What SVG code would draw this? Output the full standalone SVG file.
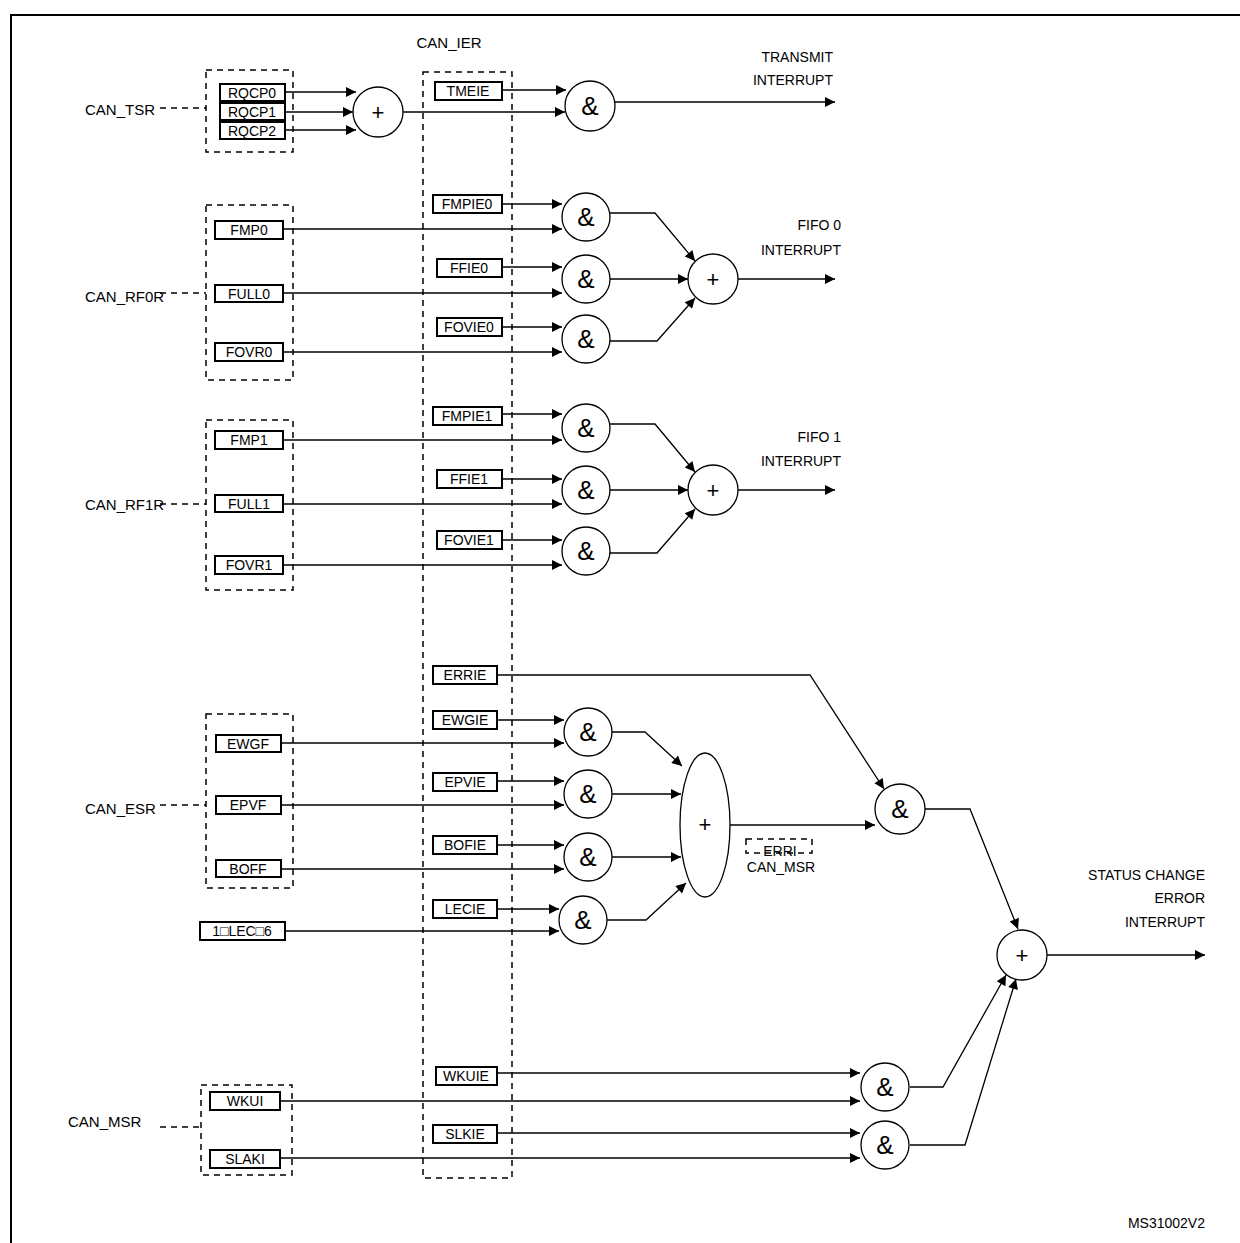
<svg xmlns="http://www.w3.org/2000/svg" width="1240" height="1243" viewBox="0 0 1240 1243">
<defs>
<marker id="a" viewBox="0 0 10 10" refX="10" refY="5" markerWidth="14" markerHeight="10" markerUnits="userSpaceOnUse" orient="auto"><path d="M0,0L10,5L0,10z" fill="#000"/></marker>
</defs>
<style>
text{font-family:"Liberation Sans",Arial,sans-serif;fill:#000}
.l{font-size:15px}
.b{font-size:14px;text-anchor:middle}
.r{font-size:14px;text-anchor:end}
.g{font-size:26px;text-anchor:middle}
.p{font-size:22px;text-anchor:middle}
.bx{fill:#fff;stroke:#000;stroke-width:2}
.d{fill:none;stroke:#000;stroke-width:1.5;stroke-dasharray:6,5}
.c{fill:#fff;stroke:#000;stroke-width:1.3}
.w{fill:none;stroke:#000;stroke-width:1.3}
.w2{fill:none;stroke:#000;stroke-width:1.3;marker-end:url(#a)}
</style>
<rect x="0" y="0" width="1240" height="1243" fill="#fff"/>
<path d="M11,1243V15H1240" fill="none" stroke="#000" stroke-width="2"/>
<g id="regs">
<text x="449" y="48" class="l" text-anchor="middle">CAN_IER</text>
<rect class="d" x="423" y="72" width="89" height="1106"/>
<rect class="d" x="206" y="70" width="87" height="82"/>
<rect class="d" x="206" y="205" width="87" height="175"/>
<rect class="d" x="206" y="420" width="87" height="170"/>
<rect class="d" x="206" y="714" width="87" height="174"/>
<rect class="d" x="201" y="1085" width="91" height="90"/>
<text x="85" y="115" class="l">CAN_TSR</text>
<text x="85" y="302" class="l">CAN_RF0R</text>
<text x="85" y="510" class="l">CAN_RF1R</text>
<text x="85" y="814" class="l">CAN_ESR</text>
<text x="68" y="1127" class="l">CAN_MSR</text>
<path class="d" d="M160,108H206M160,293H206M160,504H206M160,805H206M160,1127H201"/>
</g>
<g id="connectors">
<path class="w2" d="M285,92H356"/><path class="w2" d="M285,112H353"/><path class="w2" d="M285,130H356"/>
<path class="w2" d="M502,90H566"/><path class="w2" d="M403,112H565"/><path class="w2" d="M615,102H835"/>
<path class="w2" d="M502,204H562"/><path class="w2" d="M283,229H562"/><path class="w2" d="M502,267H562"/><path class="w2" d="M283,293H562"/><path class="w2" d="M502,327H562"/><path class="w2" d="M283,352H562"/>
<path class="w2" d="M610,213H655L695,261"/><path class="w2" d="M610,279H688"/><path class="w2" d="M610,341H657L695,298"/><path class="w2" d="M738,279H835"/>
<path class="w2" d="M502,414H562"/><path class="w2" d="M283,440H562"/><path class="w2" d="M502,479H562"/><path class="w2" d="M283,504H562"/><path class="w2" d="M502,540H562"/><path class="w2" d="M283,565H562"/>
<path class="w2" d="M610,424H655L695,472"/><path class="w2" d="M610,490H688"/><path class="w2" d="M610,553H657L695,509"/><path class="w2" d="M738,490H835"/>
<path class="w2" d="M497,675H810L884,789"/>
<path class="w2" d="M497,720H564"/><path class="w2" d="M281,743H564"/><path class="w2" d="M497,781H564"/><path class="w2" d="M281,805H564"/><path class="w2" d="M497,845H564"/><path class="w2" d="M281,869H564"/><path class="w2" d="M497,909H559"/><path class="w2" d="M285,931H559"/>
<path class="w2" d="M612,732H645L682,766"/><path class="w2" d="M612,794H681"/><path class="w2" d="M612,857H681"/><path class="w2" d="M607,920H646L686,883"/>
<path class="w2" d="M730,825H875"/>
<path class="w2" d="M925,809H970L1018,929"/><path class="w2" d="M1047,955H1205"/>
<path class="w2" d="M497,1073H860"/><path class="w2" d="M280,1101H860"/><path class="w2" d="M497,1133H860"/><path class="w2" d="M280,1158H860"/>
<path class="w2" d="M910,1087H943L1006,975"/><path class="w2" d="M910,1145H965L1016,979"/>
</g>
<g id="bits">
<rect class="bx" x="220" y="84" width="65" height="17"/><text x="252" y="98" class="b">RQCP0</text>
<rect class="bx" x="220" y="103" width="65" height="17"/><text x="252" y="117" class="b">RQCP1</text>
<rect class="bx" x="220" y="122" width="65" height="17"/><text x="252" y="136" class="b">RQCP2</text>
<rect class="bx" x="435" y="82" width="67" height="18"/><text x="468" y="96" class="b">TMEIE</text>
<rect class="bx" x="433" y="195" width="69" height="18"/><text x="467" y="209" class="b">FMPIE0</text>
<rect class="bx" x="215" y="221" width="68" height="18"/><text x="249" y="235" class="b">FMP0</text>
<rect class="bx" x="437" y="259" width="65" height="18"/><text x="469" y="273" class="b">FFIE0</text>
<rect class="bx" x="215" y="285" width="68" height="17"/><text x="249" y="299" class="b">FULL0</text>
<rect class="bx" x="437" y="318" width="65" height="18"/><text x="469" y="332" class="b">FOVIE0</text>
<rect class="bx" x="215" y="343" width="68" height="18"/><text x="249" y="357" class="b">FOVR0</text>
<rect class="bx" x="433" y="407" width="69" height="18"/><text x="467" y="421" class="b">FMPIE1</text>
<rect class="bx" x="215" y="431" width="68" height="18"/><text x="249" y="445" class="b">FMP1</text>
<rect class="bx" x="437" y="470" width="65" height="18"/><text x="469" y="484" class="b">FFIE1</text>
<rect class="bx" x="215" y="495" width="68" height="17"/><text x="249" y="509" class="b">FULL1</text>
<rect class="bx" x="437" y="531" width="65" height="18"/><text x="469" y="545" class="b">FOVIE1</text>
<rect class="bx" x="215" y="556" width="68" height="18"/><text x="249" y="570" class="b">FOVR1</text>
<rect class="bx" x="433" y="666" width="64" height="18"/><text x="465" y="680" class="b">ERRIE</text>
<rect class="bx" x="433" y="711" width="64" height="18"/><text x="465" y="725" class="b">EWGIE</text>
<rect class="bx" x="216" y="735" width="65" height="17"/><text x="248" y="749" class="b">EWGF</text>
<rect class="bx" x="433" y="773" width="64" height="18"/><text x="465" y="787" class="b">EPVIE</text>
<rect class="bx" x="216" y="796" width="65" height="18"/><text x="248" y="810" class="b">EPVF</text>
<rect class="bx" x="433" y="836" width="64" height="18"/><text x="465" y="850" class="b">BOFIE</text>
<rect class="bx" x="216" y="860" width="65" height="17"/><text x="248" y="874" class="b">BOFF</text>
<rect class="bx" x="433" y="900" width="64" height="18"/><text x="465" y="914" class="b">LECIE</text>
<rect class="bx" x="200" y="922" width="85" height="18"/><text x="242" y="936" class="b">1□LEC□6</text>
<rect class="bx" x="436" y="1067" width="61" height="18"/><text x="466" y="1081" class="b">WKUIE</text>
<rect class="bx" x="210" y="1092" width="70" height="18"/><text x="245" y="1106" class="b">WKUI</text>
<rect class="bx" x="433" y="1125" width="64" height="18"/><text x="465" y="1139" class="b">SLKIE</text>
<rect class="bx" x="210" y="1150" width="70" height="18"/><text x="245" y="1164" class="b">SLAKI</text>
</g>
<g id="gates">
<circle class="c" cx="378" cy="112" r="25"/><text x="378" y="120" class="p">+</text>
<circle class="c" cx="590" cy="106" r="25"/><text x="590" y="115" class="g">&amp;</text>
<circle class="c" cx="586" cy="217" r="24"/><text x="586" y="226" class="g">&amp;</text>
<circle class="c" cx="586" cy="279" r="24"/><text x="586" y="288" class="g">&amp;</text>
<circle class="c" cx="586" cy="339" r="24"/><text x="586" y="348" class="g">&amp;</text>
<circle class="c" cx="713" cy="279" r="25"/><text x="713" y="287" class="p">+</text>
<circle class="c" cx="586" cy="428" r="24"/><text x="586" y="437" class="g">&amp;</text>
<circle class="c" cx="586" cy="490" r="24"/><text x="586" y="499" class="g">&amp;</text>
<circle class="c" cx="586" cy="551" r="24"/><text x="586" y="560" class="g">&amp;</text>
<circle class="c" cx="713" cy="490" r="25"/><text x="713" y="498" class="p">+</text>
<circle class="c" cx="588" cy="732" r="24"/><text x="588" y="741" class="g">&amp;</text>
<circle class="c" cx="588" cy="794" r="24"/><text x="588" y="803" class="g">&amp;</text>
<circle class="c" cx="588" cy="857" r="24"/><text x="588" y="866" class="g">&amp;</text>
<circle class="c" cx="583" cy="920" r="24"/><text x="583" y="929" class="g">&amp;</text>
<ellipse class="c" cx="705" cy="825" rx="25" ry="72"/><text x="705" y="832" class="p">+</text>
<circle class="c" cx="900" cy="809" r="25"/><text x="900" y="818" class="g">&amp;</text>
<circle class="c" cx="1022" cy="955" r="25"/><text x="1022" y="963" class="p">+</text>
<circle class="c" cx="885" cy="1087" r="24"/><text x="885" y="1096" class="g">&amp;</text>
<circle class="c" cx="885" cy="1145" r="24"/><text x="885" y="1154" class="g">&amp;</text>
</g>
<g id="labels">
<text x="833" y="62" class="r">TRANSMIT</text><text x="833" y="85" class="r">INTERRUPT</text>
<text x="841" y="230" class="r">FIFO 0</text><text x="841" y="255" class="r">INTERRUPT</text>
<text x="841" y="442" class="r">FIFO 1</text><text x="841" y="466" class="r">INTERRUPT</text>
<text x="1205" y="880" class="r">STATUS CHANGE</text><text x="1205" y="903" class="r">ERROR</text><text x="1205" y="927" class="r">INTERRUPT</text>
<rect class="d" x="746" y="839" width="66" height="14" stroke-width="1.2"/>
<text x="780" y="856" class="b">ERRI</text>
<text x="781" y="872" class="b">CAN_MSR</text>
<text x="1205" y="1228" class="r">MS31002V2</text>
</g>
</svg>
